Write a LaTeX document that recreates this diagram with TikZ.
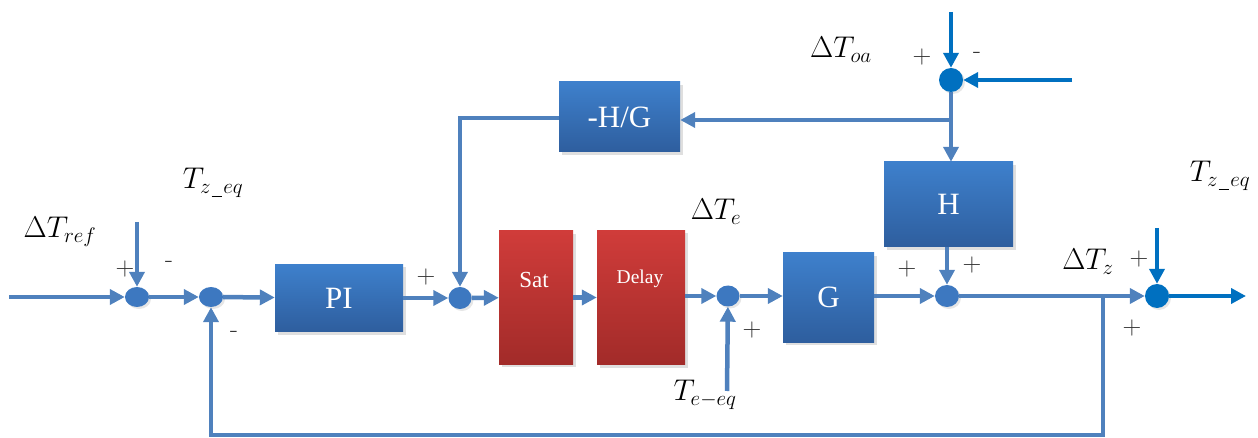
\RequirePackage{fix-cm}
\documentclass[tikz,border=0pt]{standalone}
\usepackage{fontspec}
\newfontfamily\boxfont{Liberation Serif}
\usetikzlibrary{arrows.meta,shadows,shapes.geometric}
\definecolor{ln}{HTML}{4F81BD}
\definecolor{dk}{HTML}{0070C0}
\definecolor{sumc}{HTML}{3D78C0}
\definecolor{btop}{HTML}{3E80CC}
\definecolor{bbot}{HTML}{2E5E9E}
\definecolor{rtop}{HTML}{D03C3A}
\definecolor{rbot}{HTML}{A22B29}
\newcommand{\usc}{\mkern1mu\rule[-0.12em]{0.35em}{0.05em}\mkern1mu}
\begin{document}
\begin{tikzpicture}[x=1pt,y=-1pt,
  bluebox/.style={rectangle,draw=none,top color=btop,bottom color=bbot,text=white,
    font=\boxfont\fontsize{31}{34}\selectfont,inner sep=0pt,
    drop shadow={opacity=0.25,shadow xshift=3pt,shadow yshift=-3pt}},
  redbox/.style={rectangle,draw=none,top color=rtop,bottom color=rbot,
    inner sep=0pt,drop shadow={opacity=0.25,shadow xshift=3pt,shadow yshift=-3pt}},
  redtxt/.style={text=white,inner sep=0pt},
  summer/.style={ellipse,fill=sumc,draw=none,inner sep=0pt,minimum width=24pt,minimum height=20pt,
    drop shadow={opacity=0.2,shadow xshift=2pt,shadow yshift=-2pt}},
  dsummer/.style={circle,fill=dk,draw=none,inner sep=0pt,minimum size=24pt,
    drop shadow={opacity=0.2,shadow xshift=2pt,shadow yshift=-2pt}},
  conn/.style={draw=ln,line width=4.5pt,-{Triangle[length=15pt,width=15pt]}},
  dconn/.style={draw=dk,line width=4.5pt,-{Triangle[length=15pt,width=15pt]}},
  lab/.style={font=\fontsize{30}{36}\selectfont,inner sep=0pt},
  sgn/.style={font=\fontsize{26}{30}\selectfont,inner sep=0pt,text=black!80}
]
\useasboundingbox (0,0) rectangle (1258,438);

% blocks
\node[bluebox,minimum width=128pt,minimum height=67pt] (pi) at (339,298) {PI};
\node[redbox,minimum width=74pt,minimum height=133pt] (sat) at (536,297.5) {};
\node[redtxt,font=\boxfont\fontsize{23}{26}\selectfont] (sattxt) at (534,280) {Sat};
\node[redbox,minimum width=88pt,minimum height=134pt] (del) at (641,297.5) {};
\node[redtxt,font=\boxfont\fontsize{19.5}{22}\selectfont] (deltxt) at (640,279) {Delay};
\node[bluebox,minimum width=91pt,minimum height=89pt] (g) at (828.5,297.5) {G};
\node[bluebox,minimum width=129pt,minimum height=85pt] (h) at (948.5,204.5) {H};
\node[bluebox,minimum width=121pt,minimum height=70pt] (hg) at (619.5,117) {-H/G};

% summing junctions
\node[summer] (s1) at (137,297) {};
\node[summer] (s2) at (211,297) {};
\node[summer,minimum width=23pt,minimum height=22pt] (s3) at (460,298) {};
\node[summer,minimum width=23pt,minimum height=21pt] (s4) at (728,296) {};
\node[summer,minimum width=24pt,minimum height=22pt] (s5) at (947,296) {};
\node[dsummer] (s6) at (1157,296) {};
\node[dsummer] (s7) at (951,80) {};

% free ends
\coordinate (in) at (9,297);
\coordinate (t1) at (137,222);
\coordinate (te) at (727,391);
\coordinate (t6) at (1157,228);
\coordinate (out) at (1246,296);
\coordinate (t7) at (951,12);
\coordinate (r7) at (1072,80);
\coordinate (j) at (951,120);
\coordinate (hgl) at (460,118);
\coordinate (fb) at (1103,296);
\coordinate (fbb) at (1103,435);
\coordinate (fbl) at (211,435);

% connectors
\draw[conn] (in) -- (s1);
\draw[conn] (t1) -- (s1);
\draw[conn] (s1) -- (s2);
\draw[conn] (s2) -- (pi);
\draw[conn] (pi) -- (s3);
\draw[conn] (s3) -- (sat);
\draw[conn] (sat) -- (del);
\draw[conn] (del.east |- s4) -- (s4);
\draw[conn] (te) -- (s4);
\draw[conn] (s4) -- (g.west |- s4);
\draw[conn] (g.east |- s5) -- (s5);
\draw[conn] (h.south -| s5) -- (s5);
\draw[conn] (s5) -- (s6);
\draw[dconn] (s6) -- (out);
\draw[dconn] (t6) -- (s6);
\draw[conn,line join=miter] (fb) -- (fbb) -- (fbl) -- (s2);
\draw[dconn] (t7) -- (s7);
\draw[dconn] (r7) -- (s7);
\draw[conn] (s7) -- (j) -- (h.north -| j);
\draw[conn] (j) -- (hg.east |- j);
\draw[conn,line join=miter] (hg.west |- hgl) -- (hgl) -- (s3);

% labels
\node[lab] (lref) at (60,232) {$\Delta T_{ref}$};
\node[lab] (lzeq1) at (213,183) {$T_{z\usc eq}$};
\node[lab] (le) at (716,212) {$\Delta T_e$};
\node[lab] (leeq) at (705,395) {$T_{e-eq}$};
\node[lab] (loa) at (841,50) {$\Delta T_{oa}$};
\node[lab] (lz) at (1088,262) {$\Delta T_z$};
\node[lab] (lzeq2) at (1220,176) {$T_{z\usc eq}$};

\node[sgn] (p1) at (125,269) {+};
\node[sgn] (m1) at (169,264) {-};
\node[sgn] (m2) at (234,334) {-};
\node[sgn] (p3) at (426,277) {+};
\node[sgn] (p4) at (752,330) {+};
\node[sgn] (p5a) at (907,269) {+};
\node[sgn] (p5b) at (972,265) {+};
\node[sgn] (p6a) at (1139,259) {+};
\node[sgn] (p6b) at (1132,328) {+};
\node[sgn] (p7) at (922,57) {+};
\node[sgn] (m7) at (977,55) {-};
\end{tikzpicture}
\end{document}
